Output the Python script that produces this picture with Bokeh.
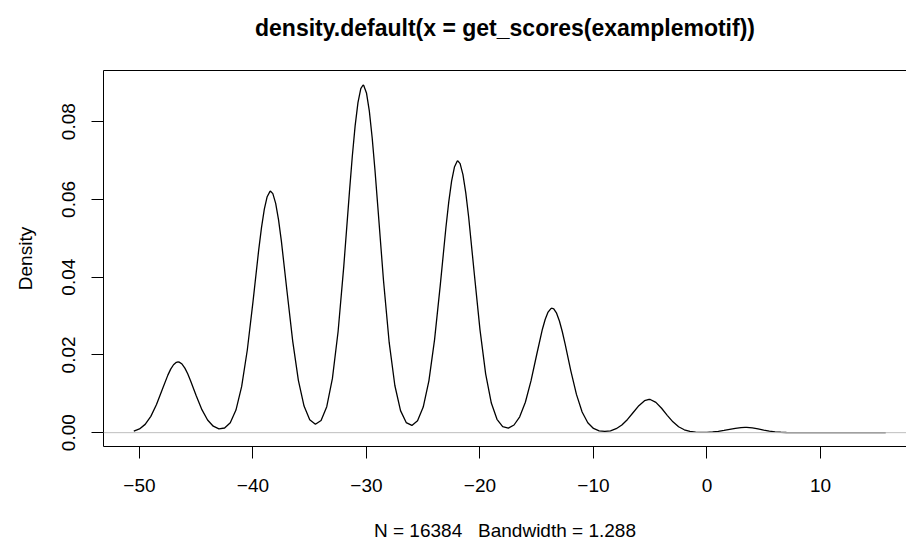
from bokeh.plotting import figure
from bokeh.models import Range1d, FixedTicker, Span, LinearAxis
from bokeh.embed import file_html
from bokeh.resources import INLINE

# ---- data ----
density_x = [-50.5, -50.0, -49.5, -49.0, -48.5, -48.0, -47.5, -47.25, -47.0, -46.75, -46.6, -46.5, -46.25, -46.0, -45.75, -45.5,
             -45.0, -44.5, -44.0, -43.5, -43.0, -42.5, -42.0, -41.5, -41.0, -40.5, -40.0, -39.5,
             -39.25, -39.0, -38.75, -38.5, -38.45, -38.25, -38.0, -37.75, -37.5, -37.0, -36.5, -36.0, -35.5, -35.0, -34.5, -34.0,
             -33.5, -33.0, -32.5, -32.0, -31.5, -31.25, -31.0, -30.75, -30.5, -30.3, -30.25, -30.0, -29.75, -29.5, -29.25, -29.0, -28.5,
             -28.0, -27.5, -27.0, -26.5, -26.0, -25.5, -25.0, -24.5, -24.0, -23.5, -23.0, -22.75, -22.5, -22.25,
             -22.0, -21.95, -21.75, -21.5, -21.25, -21.0, -20.5, -20.0, -19.5, -19.0, -18.5, -18.0, -17.5, -17.0,
             -16.5, -16.0, -15.5, -15.0, -14.5, -14.25, -14.0, -13.75, -13.65, -13.5, -13.25, -13.0, -12.75, -12.5, -12.0, -11.5,
             -11.0, -10.5, -10.0, -9.5, -9.0, -8.5, -8.0, -7.5, -7.0, -6.5, -6.0, -5.5,
             -5.1, -5.0, -4.5, -4.0, -3.5, -3.0, -2.5, -2.0, -1.5, -1.0, -0.5, 0.0,
             0.5, 1.0, 1.5, 2.0, 2.5, 3.0, 3.35, 3.5, 4.0, 4.5, 5.0, 5.5,
             6.0, 6.5, 7.0, 7.5, 8.0, 8.5, 9.0, 9.5, 10.0, 10.5, 11.0, 11.5,
             12.0, 12.5, 13.0, 13.5, 14.0, 14.5, 15.0, 15.5, 15.75]
density_y = [0.000377, 0.000954, 0.00213, 0.00419, 0.00724, 0.01104, 0.01480, 0.01634, 0.01747, 0.01810, 0.01820, 0.01815, 0.01764, 0.01660, 0.01514, 0.01336,
             0.00947, 0.00592, 0.00327, 0.00166, 0.000984, 0.00120, 0.00257, 0.00581, 0.01183, 0.02126, 0.03365, 0.04687,
             0.05274, 0.05749, 0.06069, 0.06206, 0.06210, 0.06147, 0.05898, 0.05480, 0.04933, 0.03632, 0.02355, 0.01345, 0.00683, 0.00330, 0.00215, 0.00312,
             0.00668, 0.01395, 0.02602, 0.04277, 0.06192, 0.07102, 0.07890, 0.08490, 0.08849, 0.08942, 0.08935, 0.08737, 0.08276, 0.07593, 0.06748, 0.05809, 0.03912,
             0.02320, 0.01213, 0.00566, 0.00260, 0.00186, 0.00305, 0.00658, 0.01333, 0.02393, 0.03787, 0.05276, 0.05937, 0.06471, 0.06831,
             0.06986, 0.06990, 0.06919, 0.06638, 0.06169, 0.05553, 0.04088, 0.02650, 0.01513, 0.00761, 0.00344, 0.00157, 0.00118, 0.00197,
             0.00407, 0.00783, 0.01337, 0.02010, 0.02661, 0.02918, 0.03101, 0.03192, 0.03200, 0.03182, 0.03072, 0.02873, 0.02602, 0.02284, 0.01598, 0.00984,
             0.00533, 0.00256, 0.00109, 0.000457, 0.000306, 0.000485, 0.00101, 0.00197, 0.00340, 0.00519, 0.00695, 0.00821,
             0.00855, 0.00853, 0.00780, 0.00628, 0.00445, 0.00278, 0.00152, 0.000737, 0.000317, 0.000128, 0.0000694, 0.0000883,
             0.000173, 0.000330, 0.000564, 0.000848, 0.00112, 0.00131, 0.00135, 0.00134, 0.00121, 0.000963, 0.000674, 0.000415,
             0.000225, 0.000107, 0.0000451, 0.0000167, 0.0000054, 0.000003, 0.000002, 0.000002, 0.000003, 0.000004, 0.000005, 0.000005,
             0.000004, 0.000003, 0.000002, 0.000002, 0.000001, 0.000001, 0.000001, 0.0000005, 0.0000003]

x_ticks = [-50, -40, -30, -20, -10, 0, 10]
x_tick_labels = ["\u221250", "\u221240", "\u221230", "\u221220", "\u221210", "0", "10"]
y_ticks = [0.0, 0.02, 0.04, 0.06, 0.08]
y_tick_labels = ["0.00", "0.02", "0.04", "0.06", "0.08"]

title_text = "density.default(x = get_scores(examplemotif))"
x_label = "N = 16384 \u00a0 Bandwidth = 1.288"
y_label = "Density"

FONT = "Liberation Sans"

# plot-region limits (R style: 4% padding; the right edge runs off the page)
X_START, X_END = -53.17, 17.58
Y_START, Y_END = -0.00356, 0.09315

p = figure(width=906, height=543, output_backend="svg", toolbar_location=None,
           x_range=Range1d(X_START, X_END), y_range=Range1d(Y_START, Y_END),
           min_border_left=103, min_border_right=0, min_border_top=70, min_border_bottom=93)
p.outline_line_color = None
p.xgrid.visible = False
p.ygrid.visible = False
p.background_fill_color = "white"
p.border_fill_color = "white"

xa = p.xaxis[0]
xa.ticker = FixedTicker(ticks=x_ticks)
xa.major_label_overrides = {t: l for t, l in zip(x_ticks, x_tick_labels)}
ya = p.yaxis[0]
ya.ticker = FixedTicker(ticks=y_ticks)
ya.major_label_overrides = {t: l for t, l in zip(y_ticks, y_tick_labels)}
ya.major_label_orientation = "vertical"
xa.axis_label = x_label
ya.axis_label = y_label

for ax in (xa, ya):
    ax.axis_line_color = "black"
    ax.axis_line_width = 1
    ax.major_tick_line_color = "black"
    ax.major_tick_in = 0
    ax.major_tick_out = 12
    ax.minor_tick_line_color = None
    ax.major_label_text_font = FONT
    ax.major_label_text_font_size = "19px"
    ax.major_label_text_color = "black"
    ax.axis_label_text_font = FONT
    ax.axis_label_text_font_size = "19px"
    ax.axis_label_text_font_style = "normal"
    ax.axis_label_text_color = "black"

xa.major_label_standoff = 20
xa.axis_label_standoff = 25
ya.major_label_standoff = 16
ya.axis_label_standoff = 24

# top edge of the plot box, carrying the main title
top = LinearAxis(ticker=FixedTicker(ticks=[]), major_tick_in=0, major_tick_out=0,
                 minor_tick_line_color=None, major_label_standoff=0,
                 major_label_text_font_size="0px", axis_line_color="black",
                 axis_label=title_text, axis_label_standoff=30,
                 axis_label_text_font=FONT, axis_label_text_font_size="23px",
                 axis_label_text_font_style="bold", axis_label_text_color="black")
p.add_layout(top, "above")

p.add_layout(Span(location=0, dimension="width", line_color="#bebebe", line_width=1))
p.line(density_x, density_y, line_color="black", line_width=1.3)

open("out.html", "w").write(file_html(p, INLINE))
